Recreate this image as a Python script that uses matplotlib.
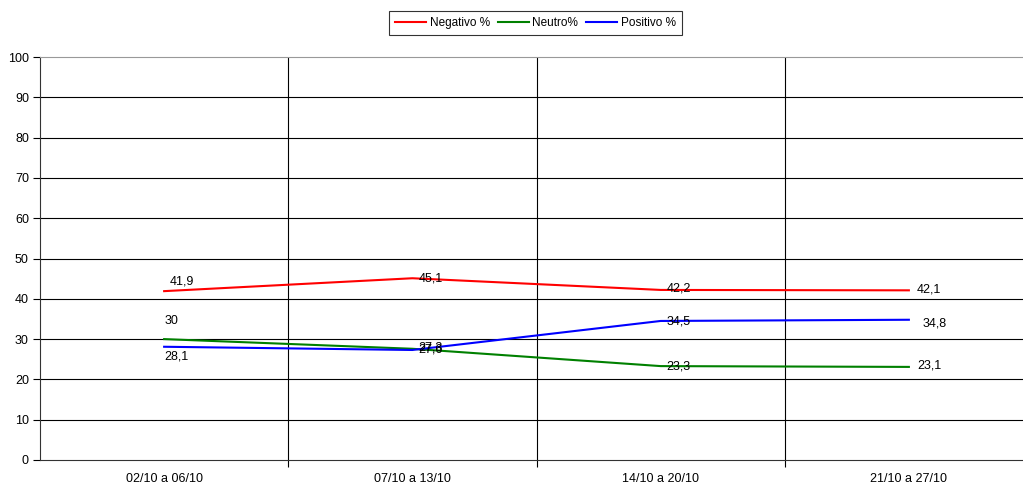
import matplotlib
matplotlib.use("Agg")
import matplotlib.pyplot as plt

categories = ["02/10 a 06/10", "07/10 a 13/10", "14/10 a 20/10", "21/10 a 27/10"]
negativo = [41.9, 45.1, 42.2, 42.1]
neutro = [30, 27.6, 23.3, 23.1]
positivo = [28.1, 27.3, 34.5, 34.8]
yticks = list(range(0, 101, 10))

# label offsets in pixels (dx, dy)
neg_off = [(6, 10), (6, 0), (6, 1), (8, 1)]
neu_off = [(0, 18), (6, -1), (6, 0), (8, 1)]
pos_off = [(0, -10), (6, 2), (6, -1), (14, -4)]

def fmt(v):
    s = ("%g" % v)
    return s.replace(".", ",")

plt.rcParams['font.family'] = ['Liberation Sans', 'DejaVu Sans']

W, H = 1023, 488
fig = plt.figure(figsize=(W / 100, H / 100), dpi=100)
left, right, top, bottom = 40, 1033, 57, 460
ax = fig.add_axes([left / W, 1 - bottom / H, (right - left) / W, (bottom - top) / H])

x = list(range(len(categories)))
series = [
    (negativo, "#FF0000", "Negativo %", neg_off),
    (neutro, "#008000", "Neutro%", neu_off),
    (positivo, "#0000FF", "Positivo %", pos_off),
]
for vals, col, lab, offs in series:
    ax.plot(x, vals, color=col, lw=1.5, label=lab, zorder=3)
    for xi, v, (dx, dy) in zip(x, vals, offs):
        ax.annotate(fmt(v), (xi, v), xytext=(dx * 0.72, dy * 0.72), textcoords="offset points",
                    ha="left", va="center", fontsize=9, color="black", zorder=4)

ax.set_xlim(-0.5, len(categories) - 0.5)
ax.set_ylim(0, 100)
ax.set_yticks(yticks)
ax.set_yticklabels([str(t) for t in yticks], fontsize=9)
ax.set_xticks(x)
ax.set_xticklabels(categories, fontsize=9)
ax.set_xticks([i + 0.5 for i in range(len(categories) - 1)], minor=True)
ax.tick_params(axis="x", which="major", length=0, pad=9)
ax.tick_params(axis="x", which="minor", length=5, width=0.8, direction="out")
ax.tick_params(axis="y", length=5, width=0.8, direction="out", pad=3)

for t in yticks[1:-1]:
    ax.axhline(t, color="black", lw=0.8, zorder=1)
for i in range(len(categories) - 1):
    ax.axvline(i + 0.5, color="black", lw=0.8, zorder=1)

ax.spines["right"].set_visible(False)
ax.spines["top"].set_color("#999999")
ax.spines["top"].set_linewidth(0.8)
for s in ["left", "bottom"]:
    ax.spines[s].set_color("#333333")
    ax.spines[s].set_linewidth(0.8)

leg = fig.legend(loc="center", bbox_to_anchor=(535.5 / W, 1 - 23 / H), ncol=3, fontsize=8.5,
                 frameon=True, fancybox=False, edgecolor="black", handlelength=2.6,
                 handletextpad=0.3, columnspacing=0.7, borderpad=0.55)
leg.get_frame().set_linewidth(0.8)

fig.savefig("out.png", dpi=100)
